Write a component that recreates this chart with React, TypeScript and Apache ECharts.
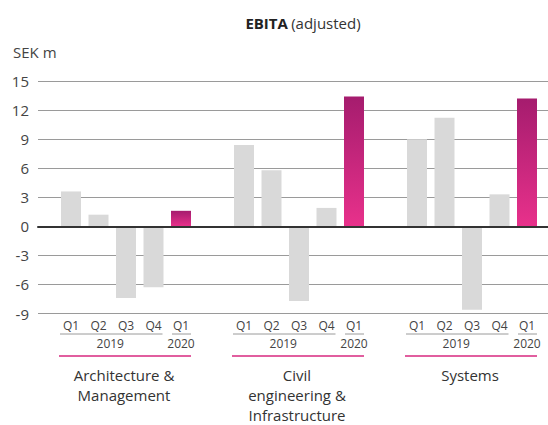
import React, { useEffect, useRef } from "react";
import * as echarts from "echarts";

const quarters = ["Q1", "Q2", "Q3", "Q4", "Q1"];
const years = ["2019", "2020"];
const segments = ["Architecture &\nManagement", "Civil\nengineering &\nInfrastructure", "Systems"];
const archValues = [3.6, 1.2, -7.4, -6.3, 1.6];
const civilValues = [8.4, 5.8, -7.7, 1.9, 13.4];
const systemsValues = [9.0, 11.2, -8.6, 3.3, 13.2];
const yTicks = { min: -9, max: 15, interval: 3 };
const title = { bold: "EBITA", rest: "(adjusted)" };
const unit = "SEK m";

const FONT = "'Open Sans', 'Noto Sans', sans-serif";
const TEXT = "#444";
const GRID_TOP = 81;
const GRID_BOTTOM = 111.5;
const CAT_W = 27.5;
const GROUP_LEFTS = [57.25, 230.25, 403.25];

export default function App() {
  const ref = useRef<HTMLDivElement>(null);
  useEffect(() => {
    if (!ref.current) return;
    const chart = echarts.init(ref.current, null, { renderer: "svg" });
    const groups = [archValues, civilValues, systemsValues];
    const pink = {
      type: "linear", x: 0, y: 0, x2: 0, y2: 1,
      colorStops: [{ offset: 0, color: "#a51c6e" }, { offset: 1, color: "#e8318b" }],
    };
    const grids: any[] = [{ left: 38, right: 0, top: GRID_TOP, bottom: GRID_BOTTOM }];
    const xAxes: any[] = [{
      gridIndex: 0, type: "category", data: [""], z: 10,
      axisLine: { show: true, onZero: true, lineStyle: { color: "#333", width: 2 } },
      axisTick: { show: false }, axisLabel: { show: false },
    }];
    const yAxes: any[] = [{
      gridIndex: 0, type: "value", ...yTicks,
      axisLine: { show: false }, axisTick: { show: false },
      axisLabel: { color: TEXT, fontSize: 15, fontFamily: FONT, margin: 9 },
      splitLine: { lineStyle: { color: "#9a9a9a", width: 1 } },
    }];
    const series: any[] = [];
    const graphic: any[] = [];
    groups.forEach((vals, gi) => {
      const left = GROUP_LEFTS[gi];
      grids.push({ left, width: CAT_W * quarters.length, top: GRID_TOP, bottom: GRID_BOTTOM });
      xAxes.push({
        gridIndex: gi + 1, type: "category", data: quarters,
        axisLine: { show: false }, axisTick: { show: false },
        axisLabel: { interval: 0, color: TEXT, fontSize: 12, fontFamily: FONT, margin: 6 },
      });
      yAxes.push({ gridIndex: gi + 1, type: "value", ...yTicks, show: false, splitLine: { show: false } });
      series.push({
        type: "bar", xAxisIndex: gi + 1, yAxisIndex: gi + 1, barWidth: 20,
        data: vals.map((v, i) => ({
          value: v,
          itemStyle: { color: i === vals.length - 1 ? pink : "#d9d9d9" },
        })),
      });
      const c = (i: number) => left + CAT_W * (i + 0.5);
      graphic.push(
        { type: "line", shape: { x1: c(0) - 11, y1: 334, x2: c(3) + 9, y2: 334 }, style: { stroke: "#9a9a9a", lineWidth: 1 } },
        { type: "line", shape: { x1: c(4) - 9, y1: 334, x2: c(4) + 10, y2: 334 }, style: { stroke: "#9a9a9a", lineWidth: 1 } },
        { type: "text", x: (c(0) + c(3)) / 2 - 2, y: 343, style: { text: years[0], align: "center", verticalAlign: "middle", fill: TEXT, font: `12px ${FONT}` } },
        { type: "text", x: c(4), y: 343, style: { text: years[1], align: "center", verticalAlign: "middle", fill: TEXT, font: `12px ${FONT}` } },
        { type: "line", shape: { x1: c(0) - 12, y1: 356, x2: c(4) + 10, y2: 356 }, style: { stroke: "#d7287f", lineWidth: 1.5 } },
        { type: "text", x: (c(0) + c(4)) / 2 - 2, y: 364.5, style: { text: segments[gi], align: "center", verticalAlign: "top", fill: "#333", font: `15px ${FONT}`, lineHeight: 20 } },
      );
    });
    graphic.push(
      {
        type: "text", x: 303, y: 23,
        style: {
          text: `{b|${title.bold}} {r|${title.rest}}`, align: "center", verticalAlign: "middle",
          rich: {
            b: { fontWeight: "bold", fontSize: 15, fontFamily: FONT, fill: "#222" },
            r: { fontSize: 15, fontFamily: FONT, fill: "#333" },
          },
        },
      },
      { type: "text", x: 13, y: 52, style: { text: unit, align: "left", verticalAlign: "middle", fill: TEXT, font: `15px ${FONT}` } },
    );
    chart.setOption({
      animation: false,
      grid: grids,
      xAxis: xAxes,
      yAxis: yAxes,
      series,
      graphic,
    });
    return () => chart.dispose();
  }, []);
  return <div ref={ref} style={{ position: "absolute", left: 0, top: 0, width: 548, height: 425 }} />;
}
